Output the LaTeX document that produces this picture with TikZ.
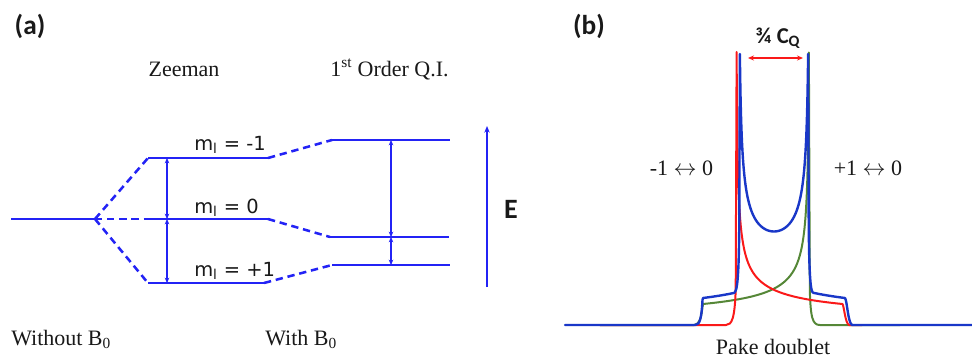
\documentclass[tikz,border=0pt]{standalone}
\usepackage{fontspec}
\setmainfont{Liberation Serif}
\newfontfamily\dvfont{DejaVu Sans}
\newfontfamily\cbfont{Carlito}
\usetikzlibrary{arrows.meta}
\definecolor{lvlblue}{RGB}{35,35,245}
\definecolor{spblue}{RGB}{25,55,200}
\definecolor{spred}{RGB}{250,25,25}
\definecolor{spgreen}{RGB}{85,135,55}
\definecolor{txt}{RGB}{25,25,25}
\begin{document}
\begin{tikzpicture}[x=0.75pt,y=-0.75pt,
  level/.style={draw=lvlblue,line width=1.9pt},
  link/.style={draw=lvlblue,line width=1.9pt,dash pattern=on 5.5pt off 3.6pt},
  gap/.style={draw=lvlblue,line width=1.2pt,{Stealth[length=4pt,width=3.4pt]}-{Stealth[length=4pt,width=3.4pt]}},
  earrow/.style={draw=lvlblue,line width=1.3pt,-{Stealth[length=5pt,width=4pt]}},
  cqarrow/.style={draw=spred,line width=1.2pt,{Stealth[length=4.5pt,width=3.8pt]}-{Stealth[length=4.5pt,width=3.8pt]}},
  spec/.style={line width=1.5pt,line join=round,line cap=round},
  serif/.style={text=txt,font=\fontsize{16.5}{18}\selectfont,inner sep=0pt},
  mlab/.style={text=txt,font=\dvfont\fontsize{14.6}{16}\selectfont,inner sep=0pt,anchor=base west},
  panel/.style={text=txt,font=\cbfont\bfseries\fontsize{20.5}{22}\selectfont,inner sep=0pt}
]
\useasboundingbox (0,0) rectangle (972,358);

% ---------- panel (a) ----------
\node[panel] (pa) at (30,26) {(a)};
\node[serif,anchor=base] (zee) at (184,76) {Zeeman};
\node[serif,anchor=base] (qi) at (389.5,76) {1\textsuperscript{st} Order Q.I.};
\node[serif,anchor=base west] (wo) at (11,345) {Without B\textsubscript{0}};
\node[serif,anchor=base west] (wi) at (265,345) {With B\textsubscript{0}};

\coordinate (L0a) at (11,219);
\coordinate (F) at (95,219);
\coordinate (Z1a) at (148,158);  \coordinate (Z1b) at (268,158);
\coordinate (Z0a) at (150,219);  \coordinate (Z0b) at (268,219);
\coordinate (Zma) at (148,283);  \coordinate (Zmb) at (264,283);
\coordinate (Q1a) at (332,140);  \coordinate (Q1b) at (450,140);
\coordinate (Q0a) at (330,237);  \coordinate (Q0b) at (449,237);
\coordinate (Qma) at (332,265);  \coordinate (Qmb) at (450,265);

\draw[level] (L0a) -- (F);
\draw[link] (F) -- (Z1a);
\draw[link] (F) -- (Z0a);
\draw[link] (F) -- (Zma);
\draw[level] (Z1a) -- (Z1b);
\draw[level] (Z0a) -- (Z0b);
\draw[level] (Zma) -- (Zmb);
\draw[link] (Z1b) -- (Q1a);
\draw[link] (Z0b) -- (Q0a);
\draw[link] (Zmb) -- (Qma);
\draw[level] (Q1a) -- (Q1b);
\draw[level] (Q0a) -- (Q0b);
\draw[level] (Qma) -- (Qmb);

\coordinate (g1) at (167,158); \coordinate (g2) at (167,219); \coordinate (g3) at (167,283);
\coordinate (h1) at (391,140); \coordinate (h2) at (391,237); \coordinate (h3) at (391,265);
\draw[gap] (g1) -- (g2);
\draw[gap] (g2) -- (g3);
\draw[gap] (h1) -- (h2);
\draw[gap] (h2) -- (h3);

\node[mlab] (m1) at (194,150) {m\textsubscript{l} = -1};
\node[mlab] (m0) at (194,213) {m\textsubscript{l} = 0};
\node[mlab] (mm) at (194,276) {m\textsubscript{l} = +1};

\coordinate (Ebot) at (487,287);
\coordinate (Etop) at (487,126);
\draw[earrow] (Ebot) -- (Etop);
\node[panel,font=\cbfont\bfseries\fontsize{21}{22}\selectfont] (E) at (511,209) {E};

% ---------- panel (b) ----------
\node[panel] (pb) at (589,26) {(b)};
\node[text=txt,font=\cbfont\bfseries\fontsize{17}{19}\selectfont,inner sep=0pt,anchor=base] (cq) at (778,43) {¾ C\textsubscript{Q}};
\coordinate (cqL) at (748,58);
\coordinate (cqR) at (803,58);
\draw[cqarrow] (cqL) -- (cqR);

\node[serif,anchor=base] (lt) at (681.5,175) {-1 $\leftrightarrow$ 0};
\node[serif,anchor=base] (rt) at (868,175) {+1 $\leftrightarrow$ 0};
\node[serif,anchor=base] (pake) at (773,354) {Pake doublet};

% green: +1 <-> 0
\draw[spec,draw=spgreen] (600,325) -- (694,325) .. controls (699,325) and (701.3,318) .. (702.3,308)
  -- plot[domain=0:2.564,samples=100,variable=\t] ({809.5-106.5*exp(-2*\t)},{325-21*exp(\t)})
  -- (809.8,290) .. controls (810.6,318) and (812.5,325) .. (820,325) -- (900,325);
% red: -1 <-> 0
\draw[spec,draw=spred] (600,325) -- (726,325) .. controls (732,325) and (734.7,318) .. (735.7,290)
  -- plot[domain=-2.564:0,samples=100,variable=\t] ({736+106.5*exp(2*\t)},{325-21/exp(\t)})
  .. controls (844,305) and (845,323) .. (849,325) -- (862,325);
% blue: sum
\draw[spec,draw=spblue,line width=1.8pt] (565,325) -- (695,325) .. controls (700,325) and (701.5,318) .. (702.5,300)
  -- plot[domain=703:734,samples=20,variable=\x] (\x,{325-27*sqrt(106.5/(809.5-\x))})
  .. controls (737,291.5) and (738.9,282) .. (739.3,220)
  -- plot[domain=16:164,samples=300,variable=\t] ({738.5+35.5*(1-cos(\t))},{325-46.77*(1/sqrt(1-cos(\t))+1/sqrt(1+cos(\t)))})
  -- (808.7,220) .. controls (809.1,282) and (811,291.5) .. (813,292.7)
  -- plot[domain=813:845,samples=20,variable=\x] (\x,{325-27*sqrt(106.5/(\x-738.5))})
  .. controls (847,300) and (848,323) .. (852,325) -- (972,325);
\end{tikzpicture}
\end{document}
